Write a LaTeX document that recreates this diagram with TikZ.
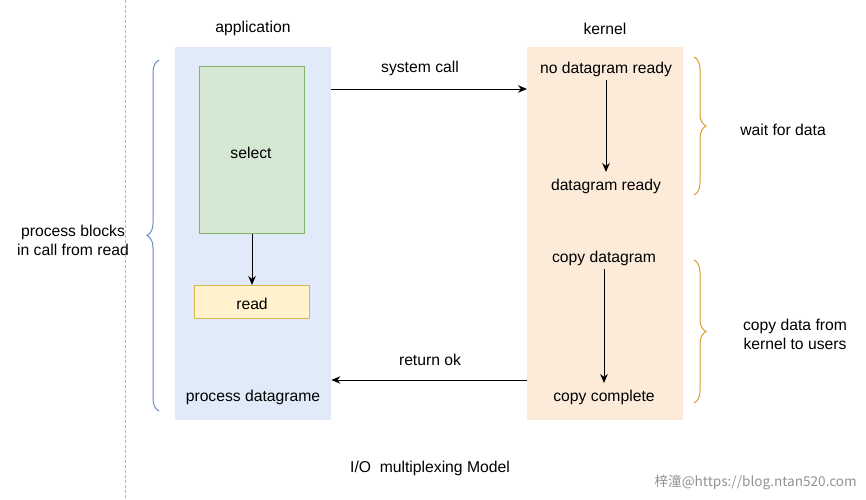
\documentclass[tikz,border=0pt]{standalone}
\usepackage{fontspec}
\setmainfont{Liberation Sans}
\newfontfamily\cjkfont{Noto Sans CJK SC}
\usetikzlibrary{arrows.meta,calc,decorations.pathreplacing}
\definecolor{appbg}{HTML}{E0EAF9}
\definecolor{kerbg}{HTML}{FCEBD9}
\definecolor{selfill}{HTML}{D5E8D4}
\definecolor{selline}{HTML}{82B366}
\definecolor{rdfill}{HTML}{FFF2CC}
\definecolor{rdline}{HTML}{D6B656}
\definecolor{bluebrace}{HTML}{6C8EBF}
\definecolor{orbrace}{HTML}{D8A030}
\begin{document}
\begin{tikzpicture}[x=1pt,y=-1pt,
  txt/.style={font=\fontsize{15.7pt}{18.5pt}\selectfont, text=black, inner sep=2pt, align=center, yshift=-1.5pt},
  panel/.style={draw=none, minimum width=156pt, minimum height=373pt, anchor=north west, inner sep=0pt},
  arr/.style={-{Stealth[length=9pt,width=7.5pt]}, line width=1pt, black},
  bracestyle/.style={decorate, decoration={brace, amplitude=12pt}, line width=1pt}
]
\useasboundingbox (0,0) rectangle (866,499);
\fill[white] (0,0) rectangle (866,499);
% dashed separator
\draw[gray!60, dashed, dash pattern=on 3pt off 2pt, line width=0.6pt] (125,0) -- (125,499);
% panels
\node[panel, fill=appbg] (app) at (175,47) {};
\node[panel, fill=kerbg] (ker) at (527,47) {};
\node[txt] (applbl) at (253,27) {application};
\node[txt] (kerlbl) at (605,27) {kernel};
% application side
\node[draw=selline, fill=selfill, line width=1pt, minimum width=105pt, minimum height=167pt, anchor=north west, inner sep=0pt] (sel) at (199,66) {};
\node[txt] (sellbl) at (251,151) {select};
\node[draw=rdline, fill=rdfill, line width=1pt, minimum width=115pt, minimum height=33pt, anchor=north west, inner sep=0pt] (rd) at (194,285) {};
\node[txt] at (rd.center) {read};
\draw[arr] (sel.south) -- (rd.north);
\node[txt] (proc) at (253,396) {process datagrame};
% kernel side
\node[txt, inner sep=4pt] (nodg) at (606,68) {no datagram ready};
\node[txt, inner sep=4pt] (dgr) at (606,185) {datagram ready};
\draw[arr] ($(nodg.south)+(0,-1)$) -- ($(dgr.north)+(0,-3)$);
\node[txt, inner sep=4pt] (cpd) at (604,257) {copy datagram};
\node[txt, inner sep=4pt] (cpc) at (604,396) {copy complete};
\draw[arr] ($(cpd.south)+(0,-1)$) -- ($(cpc.north)+(0,-3)$);
% calls
\draw[arr] ($(app.north east)+(0,42)$) -- ($(ker.north west)+(0,42)$);
\node[txt] (sc) at (420,67) {system call};
\draw[arr] ($(ker.north west)+(0,333)$) -- ($(app.north east)+(0,333)$);
\node[txt] (rok) at (430,358) {return ok};
% braces
\coordinate (lb1) at (159,411);
\coordinate (lb2) at (159,60);
\draw[bracestyle, bluebrace] (lb1) -- (lb2);
\node[txt, inner sep=0pt] (pb) at (73,239) {process blocks\\in call from read};
\coordinate (rb1) at (694,57);
\coordinate (rb2) at (694,195);
\draw[bracestyle, orbrace] (rb1) -- (rb2);
\node[txt] (wfd) at (783,128) {wait for data};
\coordinate (rb3) at (694,260);
\coordinate (rb4) at (694,403);
\draw[bracestyle, orbrace] (rb3) -- (rb4);
\node[txt, inner sep=0pt] (cdk) at (795,333) {copy data from\\kernel to users};
% title
\node[txt] (title) at (430,467) {I/O~~multiplexing Model};
\node[font=\cjkfont\fontsize{13.6pt}{15pt}\selectfont, text=gray!85, anchor=east, inner sep=0pt] (wm) at (857,482) {梓潼@https://blog.ntan520.com};
\end{tikzpicture}
\end{document}
